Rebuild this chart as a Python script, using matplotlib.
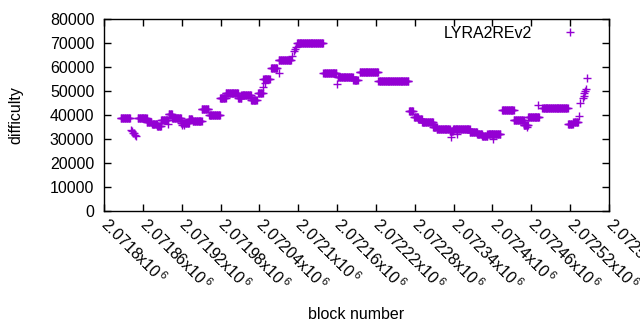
import matplotlib.pyplot as plt
import numpy as np

plt.rcParams['font.family'] = ['Liberation Sans', 'DejaVu Sans']
plt.rcParams['mathtext.fontset'] = 'custom'
plt.rcParams['mathtext.rm'] = 'Liberation Sans'

# first block of the window, the offsets below are counted from it
base = 2071800

# runs of blocks with the same difficulty (start offset, end offset, difficulty)
run_start = [26, 52, 66, 74, 82, 88, 100, 105, 119, 131, 137, 151, 162, 179, 188, 207, 212, 227,
             238, 246, 258, 270, 298, 339, 361, 385, 395, 424, 471, 479, 485, 491, 508, 514,
             534, 539, 565, 576, 584, 592, 599, 615, 633, 648, 655, 677, 717, 725]
run_end = [40, 66, 73, 82, 88, 99, 105, 119, 131, 136, 151, 161, 179, 188, 207, 212, 227, 236,
           245, 256, 267, 289, 338, 359, 384, 392, 423, 470, 477, 485, 491, 508, 514, 534,
           539, 565, 576, 584, 592, 599, 612, 633, 648, 655, 672, 716, 724, 732]
run_diff = [38600, 38600, 37200, 36300, 35300, 37900, 40300, 38750, 36800, 38300, 37500, 42400,
            40000, 47000, 49300, 47000, 48200, 46100, 49000, 55000, 59700, 62900, 69900, 57400,
            56000, 54400, 57900, 54000, 41700, 39300, 38200, 37200, 35100, 34000, 33500, 34000,
            33000, 32100, 31300, 32000, 32100, 41900, 37900, 36000, 39200, 42800, 36300, 37200]

# single blocks that stand out
one_off = [42, 43, 45, 46, 48, 50, 99, 121, 123, 246, 248, 270, 290, 293, 295, 297, 360,
           536, 545, 601, 653, 670, 734, 736, 740, 741, 742, 743, 745, 746]
one_diff = [33600, 33200, 32700, 32300, 31800, 31300, 36300, 35900, 35900, 51800, 53500, 57600,
            64600, 66500, 67400, 68200, 52800, 30800, 32100, 30000, 35000, 44200, 39600, 45100,
            47200, 48000, 49000, 49800, 50800, 55600]

blocks = []
diffs = []
for s, e, d in zip(run_start, run_end, run_diff):
    for b in range(s, e + 1):
        blocks.append(base + b)
        diffs.append(d)
for b, d in zip(one_off, one_diff):
    blocks.append(base + b)
    diffs.append(d)

fig = plt.figure(figsize=(6.4, 3.3), dpi=100)
ax = fig.add_axes([0.1625, 0.3606, 0.789, 0.5818])

ax.plot(blocks, diffs, '+', color='#9400d3', markersize=6, mew=1.0, label='LYRA2REv2')

xt = np.arange(base, 2072580 + 1, 60)
ax.set_xlim(base, 2072580)
ax.set_ylim(0, 80000)
ax.set_xticks(xt)
ax.set_xticklabels([f"{v / 1e6:g}x10$^{{\\,6}}$" for v in xt], rotation=-45,
                   ha='left', va='center', rotation_mode='anchor')
ax.set_yticks(np.arange(0, 80001, 10000))
ax.tick_params(direction='in', length=5, width=1, top=True, right=True, labelsize=11.5, pad=7)
for sp in ax.spines.values():
    sp.set_linewidth(1)

ax.set_xlabel('block number', fontsize=11.5)
ax.set_ylabel('difficulty', fontsize=11.5)
ax.xaxis.set_label_coords(0.5, -0.5)
ax.yaxis.set_label_coords(-0.16, 0.5)

ax.legend(loc='upper right', bbox_to_anchor=(0.975, 1.04), markerfirst=False, frameon=False,
          fontsize=11.5, handlelength=1.5, handletextpad=1.6)

plt.savefig('out.png', dpi=100)
